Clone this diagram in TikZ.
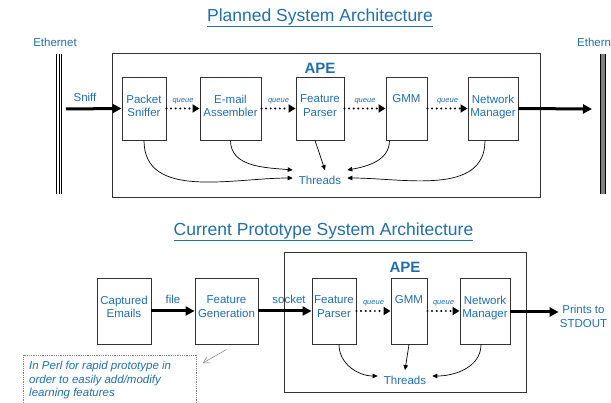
\documentclass[tikz,border=0pt]{standalone}
\usepackage{fontspec}
\setmainfont{Liberation Sans}
\usetikzlibrary{arrows.meta}
\definecolor{apeblue}{RGB}{33,110,170}
\definecolor{boxgray}{RGB}{50,50,50}
\begin{document}
\begin{tikzpicture}[x=1pt,y=1pt,
    txt/.style={text=apeblue,font=\fontsize{11.5}{13.5}\selectfont,align=center,inner sep=1pt},
    ttl/.style={text=apeblue,font=\fontsize{17.5}{20}\selectfont,inner sep=1pt},
    apelbl/.style={text=apeblue,font=\fontsize{15}{17}\selectfont\bfseries,inner sep=1pt},
    que/.style={text=apeblue,font=\fontsize{7.5}{9}\selectfont\itshape,inner sep=0pt},
    thr/.style={txt,inner xsep=6pt,inner ysep=6pt},
    blk/.style={draw=boxgray,line width=0.9pt,fill=white,inner sep=0pt},
    apebox/.style={draw=boxgray,line width=1pt},
    fat/.style={line width=3pt,-{Triangle[length=9pt,width=9pt]}},
    dots/.style={line width=2.2pt,line cap=round,dash pattern=on 0pt off 4.6pt,-{Triangle[length=7pt,width=8pt]}},
    thin/.style={line width=0.7pt,-{Triangle[length=5pt,width=4.5pt]}}]
    \useasboundingbox (0,0) rectangle (611,402);
    \node[ttl] (title1) at (320,384) {\underline{Planned System Architecture}};
    \node[txt] (ethl) at (55,360) {Ethernet};
    \node[txt,anchor=west] (ethr) at (576,360) {Ethernet};
    \draw[line width=0.8pt] (56.5,348) -- (56.5,208) (59,348) -- (59,208) (61.5,348) -- (61.5,208);
    \fill[gray] (600,208) rectangle (606,348);
    \draw[line width=0.8pt] (600.4,348) -- (600.4,208) (605.6,348) -- (605.6,208);
    \draw[apebox] (112,204) rectangle (540,348);
    \node[apelbl] (ape1) at (320,334) {APE};
    \node[blk,minimum width=44pt,minimum height=63pt] (ps) at (144,293.5) {};
    \node[txt,below=17pt] (ps-t) at (ps.north) {Packet\\Sniffer};
    \node[blk,minimum width=61pt,minimum height=63pt] (ea) at (230.5,293.5) {};
    \node[txt,below=17pt] (ea-t) at (ea.north) {E-mail\\Assembler};
    \node[blk,minimum width=48pt,minimum height=63pt] (fp) at (320,293.5) {};
    \node[txt,below=17pt] (fp-t) at (fp.north) {Feature\\Parser};
    \node[blk,minimum width=41pt,minimum height=63pt] (gmm) at (406.5,293.5) {};
    \node[txt,below=17pt] (gmm-t) at (gmm.north) {GMM};
    \node[blk,minimum width=50pt,minimum height=63pt] (nm) at (493,293.5) {};
    \node[txt,below=17pt] (nm-t) at (nm.north) {Network\\Manager};
    \node[thr] (threads) at (320,221.5) {Threads};
    \coordinate (sniff) at (66,293);
    \coordinate (out) at (592,293);
    \node[txt] (sniff-t) at (85,305) {Sniff};
    \draw[fat] (sniff) -- (ps.west);
    \draw[fat] (nm.east) -- (out);
    \draw[dots] (ps.east) -- (ea.west);
    \draw[dots] (ea.east) -- (fp.west);
    \draw[dots] (fp.east) -- (gmm.west);
    \draw[dots] (gmm.east) -- (nm.west);
    \node[que] (q1) at (183,301) {queue};
    \node[que] (q2) at (278.5,301) {queue};
    \node[que] (q3) at (365,301) {queue};
    \node[que] (q4) at (447.5,301) {queue};
    \draw[thin] (ps.south) to[out=-90,in=180] ([yshift=2.5pt]threads.west);
    \draw[thin] (ea.south) to[out=-90,in=175] ([yshift=10.5pt]threads.west);
    \draw[thin] ([xshift=-5pt]fp.south) -- ([xshift=5pt]threads.north);
    \draw[thin] ([xshift=-17pt]gmm.south) to[out=-90,in=10] ([yshift=10.5pt]threads.east);
    \draw[thin] ([xshift=-8pt]nm.south) to[out=-90,in=0] ([yshift=2.5pt]threads.east);
    \node[ttl] (title2) at (323.5,170) {\underline{Current Prototype System Architecture}};
    \draw[apebox] (284,10) rectangle (526,149);
    \node[apelbl] (ape2) at (405,135) {APE};
    \node[blk,minimum width=54pt,minimum height=66pt] (ce) at (124,91) {};
    \node[txt,below=17pt] (ce-t) at (ce.north) {Captured\\Emails};
    \node[blk,minimum width=63pt,minimum height=66pt] (fg) at (226.5,91) {};
    \node[txt,below=17pt] (fg-t) at (fg.north) {Feature\\Generation};
    \node[blk,minimum width=44pt,minimum height=66pt] (fp2) at (334,91) {};
    \node[txt,below=17pt] (fp2-t) at (fp2.north) {Feature\\Parser};
    \node[blk,minimum width=36pt,minimum height=66pt] (gmm2) at (409,91) {};
    \node[txt,below=17pt] (gmm2-t) at (gmm2.north) {GMM};
    \node[blk,minimum width=50pt,minimum height=66pt] (nm2) at (485,91) {};
    \node[txt,below=17pt] (nm2-t) at (nm2.north) {Network\\Manager};
    \node[thr] (threads2) at (405,21.5) {Threads};
    \node[txt] (stdout) at (583.5,85.5) {Prints to\\STDOUT};
    \node[txt] (file-t) at (173,103) {file};
    \node[txt] (socket-t) at (289,103) {socket};
    \draw[fat] (ce.east) -- (fg.west);
    \draw[fat] (fg.east) -- (fp2.west);
    \draw[fat] ([yshift=-1pt]nm2.east) -- ([yshift=-1pt]nm2.east -| stdout.west);
    \draw[dots] (fp2.east) -- (gmm2.west);
    \draw[dots] (gmm2.east) -- (nm2.west);
    \node[que] (q5) at (373.5,99) {queue};
    \node[que] (q6) at (443.5,99) {queue};
    \draw[thin] ([xshift=5pt]fp2.south) to[out=-90,in=180] ([yshift=4.5pt]threads2.west);
    \draw[thin] (gmm2.south) -- (threads2.north);
    \draw[thin] ([xshift=-4pt]nm2.south) to[out=-90,in=0] ([yshift=4.5pt]threads2.east);
    \draw[gray,densely dotted,line width=0.8pt] (23,-10) rectangle (196,47);
    \node[txt,anchor=north west,align=left,font=\fontsize{11.5}{13.5}\selectfont\itshape] (perl) at (28,42) {In Perl for rapid prototype in\\order to easily add/modify\\learning features};
    \coordinate (perl-tip) at (203,39);
    \draw[gray,line width=0.5pt,-{Straight Barb[length=6pt,width=7pt]}] ([yshift=-5pt]fg.south) -- (perl-tip);
\end{tikzpicture}
\end{document}
